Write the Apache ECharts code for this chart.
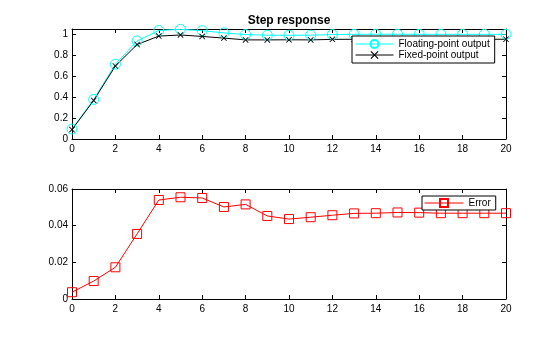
<!DOCTYPE html>
<html>
<head>
<meta charset="utf-8">
<script src="https://cdn.jsdelivr.net/npm/echarts@6/dist/echarts.min.js"></script>
<style>
  html, body { margin: 0; padding: 0; background: #fff; }
  #chart { width: 560px; height: 337px; }
</style>
</head>
<body>
<div id="chart"></div>
<script>
// Sample index of the step response
const steps = [0, 1, 2, 3, 4, 5, 6, 7, 8, 9, 10, 11, 12, 13, 14, 15, 16, 17, 18, 19, 20];
// Floating-point filter output
const floatingOutput = [0.095, 0.378, 0.714, 0.936, 1.036, 1.047, 1.034, 1.013, 0.997, 0.991, 0.990, 0.991, 0.997, 0.999, 1.000, 1.000, 0.999, 0.999, 0.999, 0.999, 0.999];
// Fixed-point filter output
const fixedOutput = [0.090, 0.368, 0.697, 0.902, 0.982, 0.993, 0.979, 0.963, 0.946, 0.946, 0.947, 0.946, 0.951, 0.952, 0.953, 0.953, 0.952, 0.952, 0.952, 0.952, 0.952];
// Difference between the two outputs
const errorValues = [0.0037, 0.0098, 0.0173, 0.0355, 0.0540, 0.0555, 0.0551, 0.0502, 0.0516, 0.0453, 0.0436, 0.0446, 0.0457, 0.0467, 0.0468, 0.0472, 0.0471, 0.0468, 0.0468, 0.0468, 0.0468];
// Axis settings
const xTicks = { min: 0, max: 20, interval: 2 };
const topYTicks = { min: 0, max: 1.05, interval: 0.2 };
const bottomYTicks = { min: 0, max: 0.06, interval: 0.02 };

const pairs = (ys) => steps.map((x, i) => [x, ys[i]]);

const FONT = 'Liberation Sans, Arial, sans-serif';
const axisLine = { show: true, onZero: false, lineStyle: { color: '#000', width: 1 } };
const tick = { show: true, inside: true, length: 4, lineStyle: { color: '#000' } };
const label = { color: '#000', fontSize: 10, fontFamily: FONT, margin: 4 };

// Each plot is boxed: a labelled axis plus a bare mirror axis on the opposite side
function xAxisPair(gridIndex) {
  return [
    { type: 'value', gridIndex, position: 'bottom', ...xTicks, axisLine, axisTick: tick,
      axisLabel: { ...label, margin: 5 }, splitLine: { show: false } },
    { type: 'value', gridIndex, position: 'top', ...xTicks, axisLine, axisTick: tick,
      axisLabel: { show: false }, splitLine: { show: false } }
  ];
}
function yAxisPair(gridIndex, ticks) {
  // label only the regular steps, not the top limit
  const fmt = (v) => {
    const k = Math.round(v / ticks.interval * 1000) / 1000;
    return Number.isInteger(k) ? String(+v.toFixed(4)) : '';
  };
  return [
    { type: 'value', gridIndex, position: 'left', ...ticks, axisLine, axisTick: tick,
      axisLabel: { ...label, formatter: fmt }, splitLine: { show: false } },
    { type: 'value', gridIndex, position: 'right', ...ticks, axisLine, axisTick: tick,
      axisLabel: { show: false }, splitLine: { show: false } }
  ];
}

const crossPath = 'path://M0,1L1,0L5,4L9,0L10,1L6,5L10,9L9,10L5,6L1,10L0,9L4,5Z';

const legendBase = {
  orient: 'vertical', itemHeight: 10, itemGap: 1,
  backgroundColor: '#fff', borderColor: '#000', borderWidth: 1, borderRadius: 0,
  lineStyle: { width: 1 },
  textStyle: { fontFamily: FONT, fontSize: 10, color: '#000', lineHeight: 10 }
};

const chart = echarts.init(document.getElementById('chart'), null, { renderer: 'canvas' });
chart.setOption({
  backgroundColor: '#fff',
  animation: false,
  title: {
    text: 'Step response', left: 289, top: 15, textAlign: 'center', padding: 0,
    textStyle: { fontFamily: FONT, fontSize: 12, fontWeight: 'bold', color: '#000' }
  },
  grid: [
    { left: 72, right: 54, top: 29, height: 110 },
    { left: 72, right: 54, top: 189, height: 110 }
  ],
  xAxis: [...xAxisPair(0), ...xAxisPair(1)],
  yAxis: [...yAxisPair(0, topYTicks), ...yAxisPair(1, bottomYTicks)],
  legend: [
    { ...legendBase, data: ['Floating-point output', 'Fixed-point output'],
      left: 352, top: 36, itemWidth: 38, padding: [3, 5, 3, 3] },
    { ...legendBase, data: ['Error'],
      left: 422, top: 196, itemWidth: 39, padding: [2, 5, 2, 2] }
  ],
  series: [
    {
      name: 'Floating-point output', type: 'line', xAxisIndex: 0, yAxisIndex: 0,
      data: pairs(floatingOutput),
      symbol: 'circle', symbolSize: 10,
      lineStyle: { color: '#00ffff', width: 1 },
      itemStyle: { color: 'rgba(0,0,0,0)', borderColor: '#00ffff', borderWidth: 1 }
    },
    {
      name: 'Fixed-point output', type: 'line', xAxisIndex: 0, yAxisIndex: 0,
      data: pairs(fixedOutput),
      symbol: crossPath, symbolSize: 6,
      lineStyle: { color: '#000', width: 1 },
      itemStyle: { color: '#000' }
    },
    {
      name: 'Error', type: 'line', xAxisIndex: 2, yAxisIndex: 2,
      data: pairs(errorValues),
      symbol: 'rect', symbolSize: 9,
      lineStyle: { color: '#ff0000', width: 1 },
      itemStyle: { color: 'rgba(0,0,0,0)', borderColor: '#ff0000', borderWidth: 1 }
    }
  ]
});
</script>
</body>
</html>
